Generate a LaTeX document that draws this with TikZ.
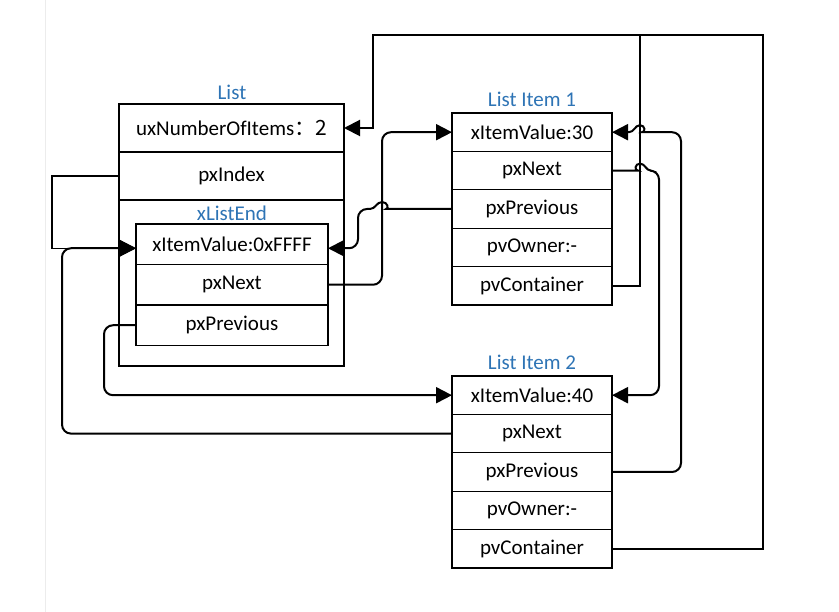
\documentclass[tikz,border=0pt]{standalone}
\usepackage{fontspec}
\setmainfont{Carlito}
\newfontfamily\cjk{Noto Sans CJK SC}
\usetikzlibrary{arrows.meta,positioning}
\definecolor{titleblue}{RGB}{46,116,181}
\tikzset{
  field/.style={draw, line width=1.2pt, minimum width=160pt, minimum height=38.4pt,
    inner sep=0pt, outer sep=0pt, font=\fontsize{21}{25}\selectfont},
  title/.style={text=titleblue, inner sep=0pt, font=\fontsize{21}{25}\selectfont},
  link/.style={line width=2pt, rounded corners=9pt},
  tip/.style={-{Triangle[length=16pt,width=16pt]}}
}
\begin{document}
\begin{tikzpicture}[x=1pt, y=-1pt]
\useasboundingbox (0,0) rectangle (839,612);
\draw[gray!15] (45,0) -- (45,612);

% the list itself
\node[title] (listtitle) at (232,92) {List};
\node[draw, line width=1.2pt, minimum width=225pt, minimum height=262pt,
      inner sep=0pt, outer sep=0pt, anchor=north west] (list) at (119,104) {};
\node[field, minimum width=225pt, minimum height=48pt, anchor=north west] (items) at (119,104) {uxNumberOfItems\cjk{：}2};
\node[field, minimum width=225pt, minimum height=48pt, below=0pt of items] (index) {pxIndex};

\node[title] (endtitle) at (232,213) {xListEnd};
\node[field, minimum width=192pt, minimum height=40.5pt, anchor=north west] (endvalue) at (136,224) {xItemValue:0xFFFF};
\node[field, minimum width=192pt, minimum height=40.5pt, below=0pt of endvalue] (endnext) {pxNext};
\node[field, minimum width=192pt, minimum height=40.5pt, below=0pt of endnext] (endprev) {pxPrevious};

% the two list items
\foreach \n/\ytop/\val in {1/113/30, 2/376/40} {
  \node[title] (title\n) at (532,\ytop-14) {List Item \n};
  \node[field, anchor=north] (value\n) at (532,\ytop) {xItemValue:\val};
  \node[field, below=0pt of value\n] (next\n) {pxNext};
  \node[field, below=0pt of next\n] (prev\n) {pxPrevious};
  \node[field, below=0pt of prev\n] (owner\n) {pvOwner:-};
  \node[field, below=0pt of owner\n] (cont\n) {pvContainer};
}

% pxIndex
\draw[line width=1.2pt, tip] (index.west) -- ++(-67,0) |- ([yshift=-4pt]endvalue.west);

% pvContainer
\draw[link, rounded corners=0pt] (cont1.east) -| (640,35);
\draw[link, rounded corners=0pt, tip] (cont2.east) -| (763,35) -| ([xshift=29pt]items.east) -- (items.east);

% next / previous, hopping over the lines they cross
\draw[link, tip] (endnext.east) -| ([xshift=-70pt]value1.west) -- (value1.west);
\draw[link, tip] (prev1.west) -- ++(-57,0) [sharp corners]
    to[out=180,in=0] ++(-13,-7) to[out=180,in=0] ++(-12,7)
    [rounded corners=9pt] -- ++(-12,0) |- ([yshift=-4pt]endvalue.east);
\draw[link, tip] (next1.east) -- ++(17,0) [sharp corners]
    to[out=0,in=180] ++(11,-7) to[out=0,in=180] ++(11,7)
    [rounded corners=9pt] -| ([xshift=47pt]value2.east) -- (value2.east);
\draw[link, tip] (prev2.east) -| ([xshift=69pt]value1.east) -- ([xshift=39pt]value1.east)
    [sharp corners] to[out=180,in=0] ++(-11,-7) to[out=180,in=0] ++(-11,7)
    -- (value1.east);
\draw[link, tip] (endprev.west) -| ([xshift=-348pt]value2.west) -- (value2.west);
\draw[link, tip] (next2.west) -| ([xshift=-74pt,yshift=-4pt]endvalue.west) -- ([yshift=-4pt]endvalue.west);
\end{tikzpicture}
\end{document}
